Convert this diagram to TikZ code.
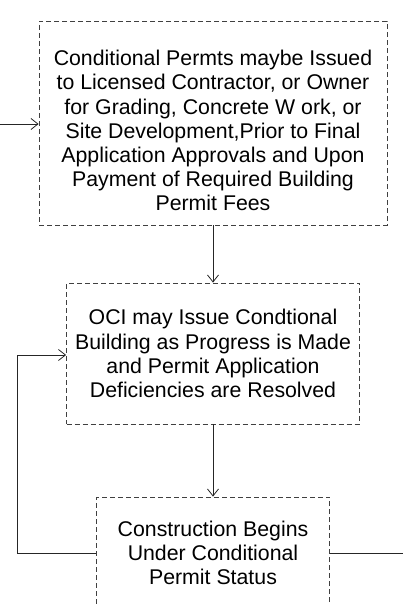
\documentclass[tikz,border=0pt]{standalone}
\usepackage{fontspec}
\setmainfont{Liberation Sans}
\usetikzlibrary{arrows.meta}
\begin{document}
\begin{tikzpicture}[x=1pt,y=-1pt,
  box/.style={draw=black!75, line width=0.8pt, dash pattern=on 5pt off 3pt, align=center,
    font=\fontsize{21.3pt}{24.2pt}\selectfont, inner sep=0pt},
  conn/.style={draw=black!85, line width=0.8pt},
  arr/.style={conn, -{Straight Barb[length=7pt,width=11pt,line width=0.8pt]}}]
\useasboundingbox (0,0) rectangle (403,605);
\node[box, minimum width=348pt, minimum height=204pt] (b1) at (213,123)
  {\rule{0pt}{31pt}Conditional Permts maybe Issued\\to Licensed Contractor, or Owner\\for Grading, Concrete W ork, or\\Site Development,Prior to Final\\Application Approvals and Upon\\Payment of Required Building\\Permit Fees};
\node[box, minimum width=293pt, minimum height=141pt] (b2) at (213,353.5)
  {OCI may Issue Condtional\\Building as Progress is Made\\and Permit Application\\Deficiencies are Resolved};
\node[box, minimum width=233pt, minimum height=112pt] (b3) at (213,553)
  {Construction Begins\\Under Conditional\\Permit Status};
\coordinate (in1) at (0,124);
\draw[arr] (in1) -- (b1.west |- in1);
\draw[arr] (b1.south) -- (b2.north);
\draw[arr] (b2.south) -- (b3.north);
\coordinate (lp) at (17.5,553);
\coordinate (lq) at (17.5,355);
\draw[arr] (b3.west) -- (lp) -- (lq) -- (lq -| b2.west);
\coordinate (rout) at (403,553);
\draw[conn] (b3.east) -- (rout);
\end{tikzpicture}
\end{document}
